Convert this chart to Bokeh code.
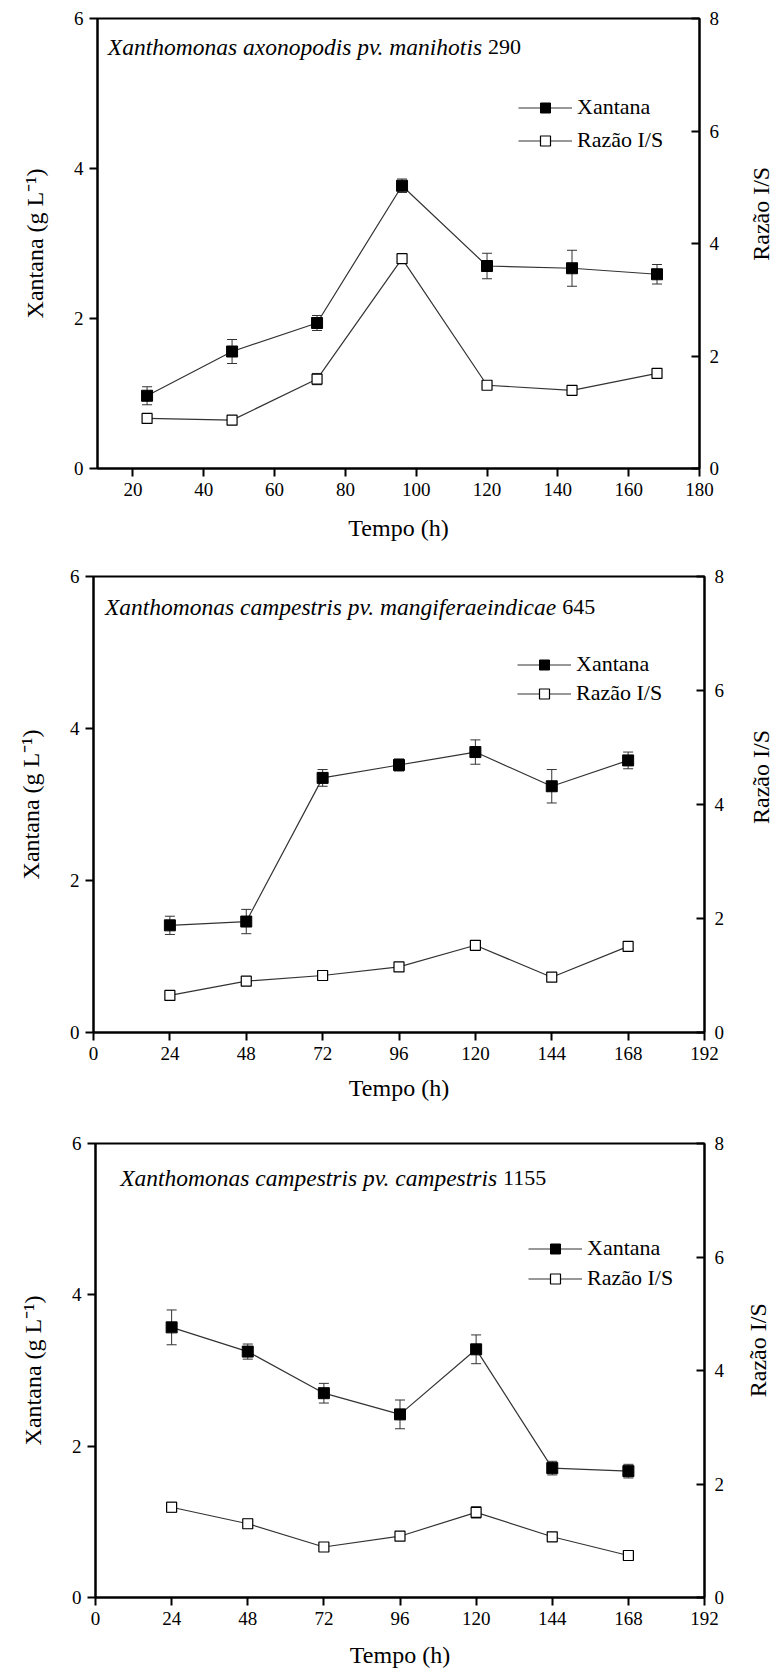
import math

from bokeh.plotting import figure
from bokeh.models import (Range1d, LinearAxis, Label, Legend, LegendItem,
                          Whisker, TeeHead, ColumnDataSource, FixedTicker)
from bokeh.layouts import column, row
from bokeh.embed import file_html
from bokeh.resources import INLINE

# Sampling times (h)
tempo = [24, 48, 72, 96, 120, 144, 168]

# Xanthomonas axonopodis pv. manihotis 290
xan_290 = [0.97, 1.56, 1.94, 3.77, 2.70, 2.67, 2.59]
xan_290_err = [0.12, 0.16, 0.10, 0.09, 0.17, 0.24, 0.13]
raz_290 = [0.89, 0.86, 1.59, 3.73, 1.48, 1.39, 1.69]
raz_290_err = [0.05, 0.05, 0.10, 0.06, 0.04, 0.04, 0.04]

# Xanthomonas campestris pv. mangiferaeindicae 645
xan_645 = [1.41, 1.46, 3.35, 3.52, 3.69, 3.24, 3.58]
xan_645_err = [0.12, 0.16, 0.11, 0.08, 0.16, 0.22, 0.11]
raz_645 = [0.65, 0.90, 1.00, 1.15, 1.53, 0.97, 1.51]
raz_645_err = [0.04, 0.04, 0.07, 0.07, 0.07, 0.04, 0.05]

# Xanthomonas campestris pv. campestris 1155
xan_1155 = [3.57, 3.25, 2.70, 2.42, 3.28, 1.71, 1.67]
xan_1155_err = [0.23, 0.10, 0.13, 0.19, 0.19, 0.09, 0.09]
raz_1155 = [1.59, 1.30, 0.89, 1.08, 1.50, 1.07, 0.74]
raz_1155_err = [0.09, 0.08, 0.04, 0.04, 0.10, 0.07, 0.07]

# Axis ticks
ticks_x_290 = [20, 40, 60, 80, 100, 120, 140, 160, 180]
ticks_x_std = [0, 24, 48, 72, 96, 120, 144, 168, 192]
ticks_xan = [0, 2, 4, 6]
ticks_raz = [0, 2, 4, 6, 8]

FONT = "Liberation Serif"
LINE = "#333333"
WIDTH = 772
SIDE = 42          # strip on the right that carries the rotated "Razão I/S" title


def style_axis(ax, side):
    ax.axis_line_color = "black"
    ax.axis_line_width = 2
    ax.major_tick_line_color = "black"
    ax.major_tick_line_width = 2
    ax.minor_tick_line_color = None
    ax.major_label_text_font = FONT
    ax.major_label_text_font_size = "19px"
    ax.major_label_text_color = "black"
    ax.axis_label_text_font = FONT
    ax.axis_label_text_font_size = "24px"
    ax.axis_label_text_font_style = "normal"
    ax.axis_label_text_color = "black"
    if side == "right":
        ax.major_tick_in = 8
        ax.major_tick_out = 0
        ax.major_label_standoff = 10
    else:
        ax.major_tick_in = 0
        ax.major_tick_out = 8
        ax.major_label_standoff = 6


def side_title(height, top, bottom, x_center):
    """Narrow strip holding the right-hand axis title, reading bottom to top."""
    s = figure(width=SIDE, height=height, x_range=Range1d(0, SIDE),
               y_range=Range1d(0, height), min_border=0,
               x_axis_type=None, y_axis_type=None,
               output_backend="svg", toolbar_location=None,
               background_fill_color="white", border_fill_color="white")
    s.grid.visible = False
    s.outline_line_color = None
    frame_mid = bottom + (height - top - bottom) / 2
    s.add_layout(Label(x=x_center, y=frame_mid, text="Raz\u00e3o I/S",
                       angle=math.pi / 2, text_align="center",
                       text_baseline="middle", text_font=FONT,
                       text_font_size="24px", text_color="black"))
    return s


def panel(height, borders, x_span, x_ticks, species, strain, title_pos,
          xan, xan_err, raz, raz_err, legend_loc, legend_spacing,
          bottom_label_standoff, right_label_px):
    left, right, top, bottom = borders
    x0, x1 = x_span
    main_w = WIDTH - SIDE
    frame_w = WIDTH - left - right
    px = (x1 - x0) / frame_w  # data units per pixel along x

    p = figure(width=main_w, height=height,
               x_range=Range1d(x0, x1), y_range=Range1d(0, 6),
               min_border_left=left, min_border_right=right - SIDE,
               min_border_top=top, min_border_bottom=bottom,
               output_backend="svg", toolbar_location=None,
               background_fill_color="white", border_fill_color="white")
    p.grid.visible = False
    p.outline_line_color = "black"
    p.outline_line_width = 2
    p.extra_y_ranges = {"raz": Range1d(0, 8)}

    xax = p.xaxis[0]
    xax.ticker = FixedTicker(ticks=x_ticks)
    xax.axis_label = "Tempo (h)"
    style_axis(xax, "below")
    xax.axis_label_standoff = bottom_label_standoff

    yax = p.yaxis[0]
    yax.ticker = FixedTicker(ticks=ticks_xan)
    yax.axis_label = "Xantana (g L\u207b\u00b9)"
    style_axis(yax, "left")
    yax.axis_label_standoff = 23

    rax = LinearAxis(y_range_name="raz", ticker=FixedTicker(ticks=ticks_raz))
    style_axis(rax, "right")
    p.add_layout(rax, "right")

    src = ColumnDataSource(dict(
        t=tempo,
        xan=xan,
        xan_lo=[v - e for v, e in zip(xan, xan_err)],
        xan_hi=[v + e for v, e in zip(xan, xan_err)],
        raz=raz,
        raz_lo=[v - e for v, e in zip(raz, raz_err)],
        raz_hi=[v + e for v, e in zip(raz, raz_err)],
    ))

    # error bars with caps
    for lo, hi, rng in (("xan_lo", "xan_hi", "default"), ("raz_lo", "raz_hi", "raz")):
        w = Whisker(source=src, base="t", lower=lo, upper=hi,
                    y_range_name=rng, line_color=LINE, line_width=1,
                    level="underlay",
                    lower_head=TeeHead(size=10, line_color=LINE, line_width=1),
                    upper_head=TeeHead(size=10, line_color=LINE, line_width=1))
        p.add_layout(w)

    l_xan = p.line("t", "xan", source=src, line_color=LINE, line_width=1.2)
    l_raz = p.line("t", "raz", source=src, line_color=LINE, line_width=1.2,
                   y_range_name="raz")
    s_xan = p.scatter("t", "xan", source=src, marker="square", size=11,
                      fill_color="black", line_color="black")
    s_raz = p.scatter("t", "raz", source=src, marker="square", size=10,
                      fill_color="white", line_color="black", line_width=1.2,
                      y_range_name="raz")

    legend = Legend(items=[LegendItem(label="Xantana", renderers=[l_xan, s_xan]),
                           LegendItem(label="Raz\u00e3o I/S", renderers=[l_raz, s_raz])],
                    location=legend_loc, glyph_width=54, glyph_height=25,
                    label_height=25, spacing=legend_spacing, padding=0, margin=0,
                    label_standoff=5, border_line_color=None,
                    background_fill_alpha=0,
                    label_text_font=FONT, label_text_font_size="22px",
                    label_text_color="black")
    p.add_layout(legend)

    tx, gap_px, ty = title_pos
    p.add_layout(Label(x=tx, y=ty, text=species, text_font=FONT,
                       text_font_style="italic", text_font_size="23.5px",
                       text_align="right", text_baseline="middle",
                       text_color="black"))
    p.add_layout(Label(x=tx + gap_px * px, y=ty, text=strain, text_font=FONT,
                       text_font_size="22px", text_align="left",
                       text_baseline="middle", text_color="black"))

    label_x = (WIDTH - right) + right_label_px - main_w
    return row(p, side_title(height, top, bottom, label_x), spacing=0)


p1 = panel(560, (97, 73, 18, 92), (10, 180), ticks_x_290,
           "Xanthomonas axonopodis pv. manihotis", "290", (118.6, 6, 5.62),
           xan_290, xan_290_err, raz_290, raz_290_err,
           (421, 315), 7, 16, 61)
p2 = panel(555, (93, 68, 16, 83), (0, 192), ticks_x_std,
           "Xanthomonas campestris pv. mangiferaeindicae", "645", (145.4, 6, 5.60),
           xan_645, xan_645_err, raz_645, raz_645_err,
           (424, 326), 3, 12, 56)
p3 = panel(560, (95, 68, 28, 78), (0, 192), ticks_x_std,
           "Xanthomonas campestris pv. campestris", "1155", (126.6, 6, 5.54),
           xan_1155, xan_1155_err, raz_1155, raz_1155_err,
           (433, 306), 4, 14, 53)

layout = column(p1, p2, p3, spacing=0)
open("out.html", "w").write(file_html(layout, INLINE))
